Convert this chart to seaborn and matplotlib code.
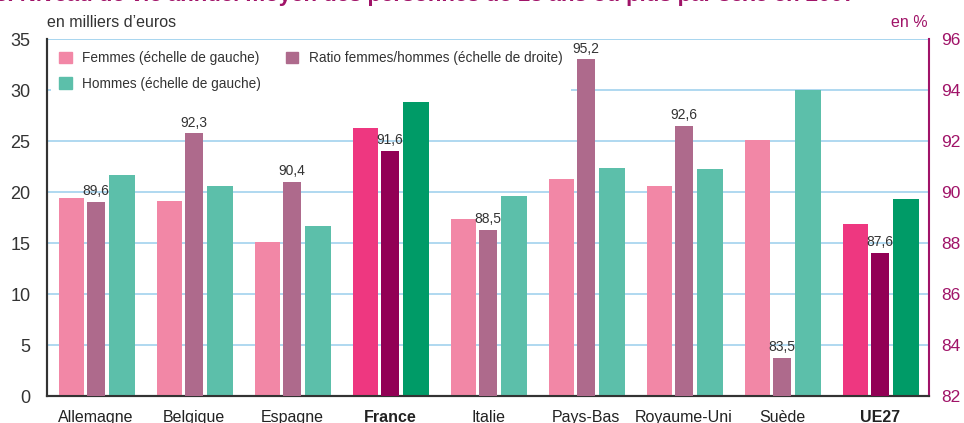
import numpy as np
import matplotlib
matplotlib.use("Agg")
import matplotlib.pyplot as plt
import seaborn as sns
from matplotlib.patches import Patch

## data
pays = ['Allemagne', 'Belgique', 'Espagne', 'France', 'Italie',
        'Pays-Bas', 'Royaume-Uni', 'Suède', 'UE27']
femmes = [19.4, 19.1, 15.1, 26.3, 17.4, 21.3, 20.6, 25.1, 16.9]
hommes = [21.7, 20.6, 16.7, 28.8, 19.6, 22.4, 22.3, 30.0, 19.3]
ratio = [89.6, 92.3, 90.4, 91.6, 88.5, 95.2, 92.6, 83.5, 87.6]
ratio_labels = ['89,6', '92,3', '90,4', '91,6', '88,5', '95,2', '92,6', '83,5', '87,6']
mis_en_avant = ['France', 'UE27']

## colours
c_f, c_r, c_h = '#F287A6', '#AE6A8C', '#5CBFAA'
c_f2, c_r2, c_h2 = '#EE3780', '#920055', '#009B67'
magenta = '#A01368'
grid_col = '#A9D6EF'

sns.set_theme(style='white')
plt.rcParams['font.family'] = ['Liberation Sans', 'DejaVu Sans']

fig = plt.figure(figsize=(9.64, 4.23), dpi=100)
ax = fig.add_axes([0.0488, 0.0638, 0.9149, 0.844])
ax2 = ax.twinx()

x = np.arange(len(pays))

## bars for women and men on the left scale, ratio on the right scale
sns.barplot(x=x - 0.25, y=femmes, native_scale=True, width=0.255,
            color=c_f, errorbar=None, ax=ax, saturation=1, zorder=3)
sns.barplot(x=x + 0.265, y=hommes, native_scale=True, width=0.27,
            color=c_h, errorbar=None, ax=ax, saturation=1, zorder=3)
sns.barplot(x=x, y=ratio, native_scale=True, width=0.185,
            color=c_r, errorbar=None, ax=ax2, saturation=1, zorder=3)

## darker colours for France and UE27
hl = [pays.index(p) for p in mis_en_avant]
for i in hl:
    ax.patches[i].set_facecolor(c_f2)
    ax.patches[len(pays) + i].set_facecolor(c_h2)
    ax2.patches[i].set_facecolor(c_r2)
for p in ax.patches + ax2.patches:
    p.set_edgecolor('none')

ax.set_xlim(-0.5, 8.5)
ax.set_ylim(0, 35)
ax2.set_ylim(82, 96)
ax.set_yticks(np.arange(0, 36, 5))
ax2.set_yticks(np.arange(82, 97, 2))

## gridlines
for v in np.arange(5, 36, 5):
    ax.axhline(v, color=grid_col, lw=1.3, zorder=0)

## labels over ratio bars
for i in x:
    ax2.text(i, ratio[i] + 0.15, ratio_labels[i], ha='center', va='bottom',
             fontsize=10, color='#333333')

ax.set_xticks(x)
ax.set_xticklabels(pays, fontsize=11.5, color='#222222')
for i in hl:
    ax.get_xticklabels()[i].set_fontweight('bold')
ax.tick_params(axis='x', length=0, pad=10)
ax.tick_params(axis='y', length=0, pad=12, labelsize=13, labelcolor='#333333')
ax2.tick_params(axis='y', length=0, pad=9, labelsize=12.5, labelcolor=magenta)
ax.set_xlabel('')
ax.set_ylabel('')
ax2.set_ylabel('')

for a in (ax, ax2):
    a.spines['top'].set_visible(False)
    a.spines['left'].set_color('#333333')
    a.spines['bottom'].set_color('#333333')
    a.spines['right'].set_color(magenta)
    a.spines['left'].set_linewidth(1.5)
    a.spines['bottom'].set_linewidth(1.5)
    a.spines['right'].set_linewidth(1.5)
ax.spines['right'].set_visible(False)
ax.axhline(35, color=grid_col, lw=1.3, zorder=0)

## legend (on the left axes, so the ratio bars stay in front of it)
handles = [Patch(color=c_f, label='Femmes (échelle de gauche)'),
           Patch(color=c_h, label='Hommes (échelle de gauche)'),
           Patch(color=c_r, label='Ratio femmes/hommes (échelle de droite)')]
leg = ax.legend(handles=handles, ncol=2, loc='upper left',
                bbox_to_anchor=(0.0, 1.0), fontsize=9.8, frameon=True,
                handlelength=0.9, handleheight=0.9, handletextpad=0.8,
                labelspacing=0.85, columnspacing=1.8, borderpad=0.6,
                borderaxespad=0.3)
leg.get_frame().set_facecolor('white')
leg.get_frame().set_edgecolor('none')
leg.get_frame().set_alpha(1)
leg.set_zorder(5)
for t in leg.get_texts():
    t.set_color('#333333')

## axis titles and (cropped) chart title
fig.text(0.0488, 0.947, "en milliers d’euros", fontsize=11.5, color='#333333',
         ha='left', va='center')
fig.text(0.962, 0.947, 'en %', fontsize=11.5, color=magenta, ha='right', va='center')
fig.text(-0.005, 1 - 1.5 / 423,
         '3. Niveau de vie annuel moyen des personnes de 18 ans ou plus par sexe en 2007',
         fontsize=16, fontweight='bold', color=magenta, ha='left', va='baseline')

fig.savefig('out.png', dpi=100)
